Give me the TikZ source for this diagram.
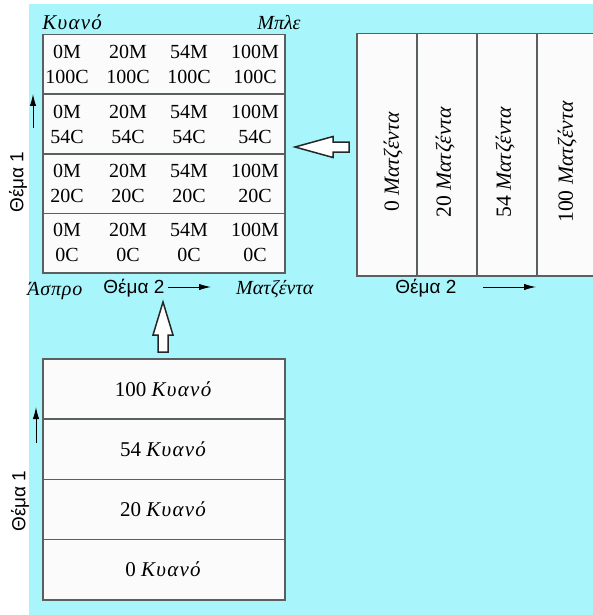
\documentclass[tikz,border=0pt]{standalone}
\usepackage{fontspec}
\setmainfont{Liberation Serif}
\newfontfamily\grsans{Liberation Sans}
\usetikzlibrary{arrows.meta}
\definecolor{bgcyan}{RGB}{168,246,252}
\definecolor{boxgray}{RGB}{90,96,96}
\definecolor{boxfill}{RGB}{251,251,251}
\newcommand{\cyanword}{\textit{\addfontfeature{LetterSpace=6}Κυανό}}
\begin{document}
\begin{tikzpicture}[x=0.5pt,y=-0.5pt,
		cell/.style={draw=boxgray,fill=boxfill,line width=0.75pt,inner sep=0pt,anchor=north west,
			font=\fontsize{10}{12.5}\selectfont},
		txt/.style={inner sep=0pt,align=center,font=\fontsize{10}{12.5}\selectfont},
		ax/.style={inner sep=0pt,font=\grsans\fontsize{9.5}{11}\selectfont},
		axis/.style={line width=0.5pt,-{Latex[length=6pt,width=3.2pt]}},
		hollow/.style={draw=black!85,fill=white,line width=0.75pt,line join=miter}]
			\useasboundingbox (0,0) rectangle (593,615);
			\fill[bgcyan] (29,4) rectangle (593,615);
			% grid of mixtures
			\foreach \y [count=\i] in {34,93.5,153,212.5}
				\node[cell,minimum width=121pt,minimum height=29.75pt] (g\i) at (42,\y) {};
			\foreach \c/\y in {100/64.5,54/124.5,20/183.5,0/242.5}
				\foreach \m/\x in {0/67,20/128,54/189,100/255}
					\node[txt] (g-\c-\m) at (\x,\y) {\m M\\\c C};
			\node[txt,anchor=base west,font=\fontsize{10.5}{12.5}\selectfont] (cyan) at (42,30) {\cyanword};
			\node[txt,anchor=base east] (blue) at (301,30) {\textit{Μπλε}};
			\node[txt,anchor=base west] (white) at (27,295) {\textit{\addfontfeature{LetterSpace=4}Άσπρο}};
			\node[ax,anchor=base west] (th2a) at (103,293) {Θέμα 2};
			\node[txt,anchor=base east] (magenta) at (314,294) {\textit{Ματζέντα}};
			\coordinate (a2s) at (168,287);
			\coordinate (a2e) at (211,287);
			\draw[axis] (a2s) -- (a2e);
			\node[ax,rotate=90] (th1a) at (18,182) {Θέμα 1};
			\coordinate (a1s) at (33,128);
			\coordinate (a1e) at (33,94);
			\draw[axis] (a1s) -- (a1e);
			% magenta stack
			\foreach \v/\x/\tx [count=\i] in {0/356/393,20/416/445,54/476/505,100/536/567}{
				\node[cell,minimum width=30pt,minimum height=121pt] (m\i) at (\x,33) {};
				\node[txt,rotate=90,font=\fontsize{10.8}{13}\selectfont] (mt\i) at (\tx,162) {\v\ \textit{Ματζέντα}};
			}
			\node[ax,anchor=base west] (th2b) at (395,293) {Θέμα 2};
			\coordinate (b2s) at (483,287);
			\coordinate (b2e) at (536,287);
			\draw[axis] (b2s) -- (b2e);
			\draw[hollow] (295,147) -- (333,136.5) -- (333,142) -- (349,142) -- (349,152) -- (333,152) -- (333,157.5) -- cycle;
			% cyan stack
			\foreach \v/\y [count=\i] in {100/358,54/418.25,20/478.5,0/538.75}
				\node[cell,minimum width=121pt,minimum height=30.125pt,font=\fontsize{10.5}{12.5}\selectfont] (k\i) at (42,\y) {\v\ \cyanword};
			\draw[hollow] (163,302) -- (173,335) -- (168,335) -- (168,352) -- (158,352) -- (158,335) -- (153,335) -- cycle;
			\node[ax,rotate=90] (th1b) at (20,501) {Θέμα 1};
			\coordinate (b1s) at (36,443);
			\coordinate (b1e) at (36,407);
			\draw[axis] (b1s) -- (b1e);
		\end{tikzpicture}
\end{document}
